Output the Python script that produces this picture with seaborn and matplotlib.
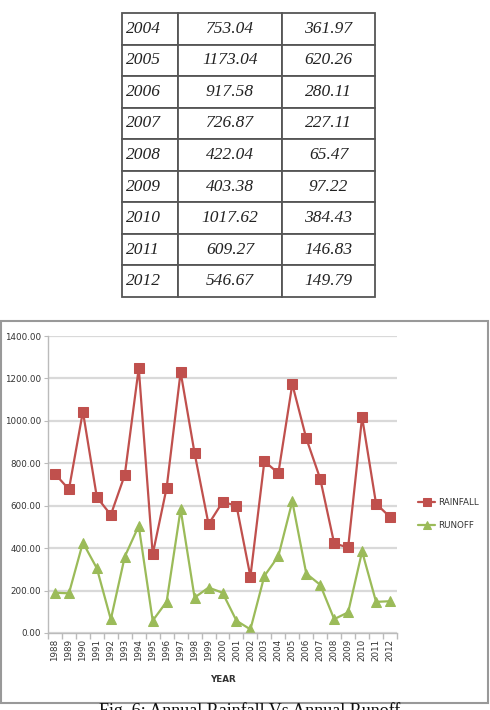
import numpy as np
import pandas as pd
import matplotlib
matplotlib.use("Agg")
import matplotlib.pyplot as plt
import seaborn as sns
from matplotlib.patches import Rectangle

# values (2004-2012 come straight from the table)
years = list(range(1988, 2013))
rainfall = [750, 677, 1044, 640, 557, 745, 1249, 371, 685, 1230, 848, 513,
            617, 601, 266, 810, 753.04, 1173.04, 917.58, 726.87, 422.04,
            403.38, 1017.62, 609.27, 546.67]
runoff = [190, 187, 426, 305, 64, 360, 505, 58, 148, 583, 167, 214,
          190, 58, 17, 269, 361.97, 620.26, 280.11, 227.11, 65.47,
          97.22, 384.43, 146.83, 149.79]
table_from = 2004

df = pd.DataFrame({"YEAR": years, "RAINFALL": rainfall, "RUNOFF": runoff})

sns.set_style("white")
plt.rcParams['font.family'] = ['DejaVu Sans']

red = "#C0504D"
green = "#9BBB59"
grid_c = "#D9D9D9"

fig = plt.figure(figsize=(4.9, 7.1), dpi=100, facecolor='white')

# ---- table at the top ----
tab = df[df["YEAR"] >= table_from]
cells = [[str(y), f"{r:.2f}", f"{q:.2f}"] for y, r, q in
         zip(tab["YEAR"], tab["RAINFALL"], tab["RUNOFF"])]
tax = fig.add_axes([122 / 490, 1 - 297 / 710, 253 / 490, 284 / 710])
tax.axis('off')
tbl = tax.table(cellText=cells, colWidths=[56, 104, 93], loc='center',
                bbox=[0, 0, 1, 1])
tbl.auto_set_font_size(False)
for (r, c), cell in tbl.get_celld().items():
    cell.set_edgecolor('#555555')
    cell.set_linewidth(1.3)
    txt = cell.get_text()
    txt.set_fontfamily('Liberation Serif')
    txt.set_fontstyle('italic')
    txt.set_fontsize(12.5)
    txt.set_color('#222222')
    if c == 0:
        cell.set_text_props(ha='left')
        cell.PAD = 0.07
    else:
        cell.set_text_props(ha='center')

# ---- chart frame ----
fig.patches.append(Rectangle((1 / 490, 1 - 703 / 710), 487 / 490, 382 / 710,
                             transform=fig.transFigure, fill=False,
                             edgecolor='#999999', linewidth=1.5))

ax = fig.add_axes([48 / 490, 1 - 633 / 710, 349 / 490, 297 / 710])
ax.set_facecolor('white')
sns.lineplot(data=df, x="YEAR", y="RAINFALL", ax=ax, color=red, marker='s',
             markersize=6.5, markeredgecolor=red, markerfacecolor=red,
             linewidth=1.6, label="RAINFALL")
sns.lineplot(data=df, x="YEAR", y="RUNOFF", ax=ax, color=green, marker='^',
             markersize=7, markeredgecolor=green, markerfacecolor=green,
             linewidth=1.6, label="RUNOFF")

ax.set_ylim(0, 1400)
ax.set_yticks(np.arange(0, 1401, 200))
ax.set_yticklabels([f"{v:.2f}" for v in np.arange(0, 1401, 200)])
ax.set_xlim(years[0] - 0.5, years[-1] + 0.5)
ax.set_xticks(years)
ax.set_xticklabels([str(y) for y in years], rotation=90)
ax.set_xticks(np.arange(years[0] - 0.5, years[-1] + 1, 1), minor=True)
ax.tick_params(axis='x', which='major', length=0, labelsize=6.3, pad=4,
               colors='#333333')
ax.tick_params(axis='x', which='minor', length=4, color='#BBBBBB', width=1,
               bottom=True)
ax.tick_params(axis='y', length=3, color='#BBBBBB', labelsize=6.3, pad=2,
               colors='#333333', left=True)
ax.yaxis.grid(True, color=grid_c, linewidth=1.6)
ax.set_axisbelow(True)
for s in ['top', 'right']:
    ax.spines[s].set_visible(False)
for s in ['left', 'bottom']:
    ax.spines[s].set_color('#BBBBBB')
    ax.spines[s].set_linewidth(1)
ax.set_ylabel("")
ax.set_xlabel("YEAR", fontsize=6.3, fontweight='bold', color='#333333',
              labelpad=10)

ax.legend(loc='upper left', bbox_to_anchor=(410 / 490, 1 - 490 / 710),
          bbox_transform=fig.transFigure, frameon=False, fontsize=6.3,
          handlelength=2.0, handletextpad=0.3, labelspacing=1.6,
          markerscale=0.9, labelcolor='#333333')

fig.text(250 / 490, 1 - 702 / 710, "Fig. 6: Annual Rainfall Vs Annual Runoff",
         ha='center', va='top', fontsize=13, family='Liberation Serif',
         color='#111111')

fig.savefig('out.png', dpi=100, facecolor='white')
